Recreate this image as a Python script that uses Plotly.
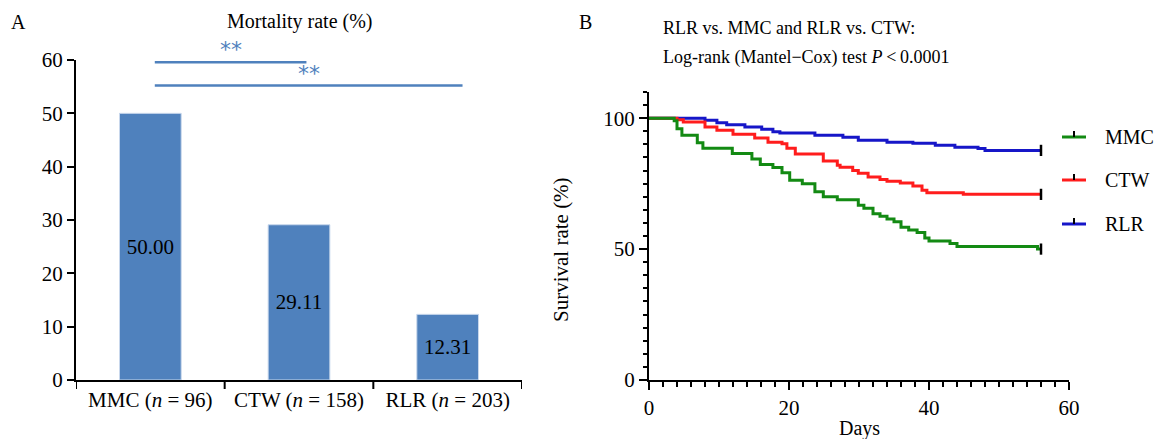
import plotly.graph_objects as go

W, H = 1159, 439

# ---------------- data ----------------
groups = ["MMC", "CTW", "RLR"]
group_n = [96, 158, 203]
mortality = [50.00, 29.11, 12.31]

# significance comparisons: (from index, to index, height)
sig_from = [0, 0]
sig_to = [1, 2]
sig_height = [59.6, 55.2]
sig_label = ["**", "**"]

mmc_days = [0, 3.6, 4.0, 4.7, 6.9, 7.7, 11.9, 14.7, 15.9, 17.7, 19.0, 20.1, 21.9, 23.7, 24.9,
            26.9, 29.9, 30.7, 32.0, 33.0, 34.0, 35.0, 36.0, 37.1, 38.3, 39.4, 40.0, 43.0, 44.0,
            55.5, 56]
mmc_surv = [100, 99.0, 96.0, 93.5, 90.6, 88.5, 86.5, 84.4, 82.3, 81.2, 79.2, 76.3, 75.0, 71.9,
            70.0, 68.8, 66.7, 65.6, 63.5, 62.5, 61.5, 60.4, 58.3, 57.3, 56.3, 54.2, 53.1, 52.1,
            51.0, 50.0, 50.0]

ctw_days = [0, 4.0, 4.9, 8.0, 9.7, 12.0, 15.1, 17.0, 19.0, 19.7, 20.9, 24.9, 26.9, 27.3, 29.1,
            29.9, 31.3, 33.0, 34.0, 35.9, 37.7, 39.0, 39.7, 44.9, 56]
ctw_surv = [100, 99.4, 98.5, 96.6, 95.4, 93.9, 92.4, 90.8, 90.2, 88.5, 86.3, 83.6, 82.0, 81.3,
            80.0, 79.0, 77.5, 76.6, 75.9, 75.2, 74.1, 72.5, 71.5, 70.9, 70.9]

rlr_days = [0, 8.0, 9.7, 11.1, 13.7, 16.1, 17.7, 18.7, 23.7, 27.7, 29.9, 34.0, 37.7, 40.9, 43.7,
            47.0, 48.0, 56]
rlr_surv = [100, 99.2, 98.3, 97.5, 96.6, 95.8, 94.8, 94.3, 93.5, 92.7, 91.6, 90.8, 90.4, 89.7,
            88.9, 88.4, 87.7, 87.7]

curve_names = ["RLR", "CTW", "MMC"]
curve_days = [rlr_days, ctw_days, mmc_days]
curve_surv = [rlr_surv, ctw_surv, mmc_surv]
curve_colors = {"MMC": "#138a13", "CTW": "#ff1c1c", "RLR": "#1616c8"}
legend_order = ["MMC", "CTW", "RLR"]

# ---------------- helpers ----------------
def px(xp):
    return xp / W

def py(yp):
    return 1 - yp / H

FONT = "Liberation Serif"
BAR_COLOR = "#4f81bd"
TICK_SIZE = 21

fig = go.Figure()

# ---------------- panel A ----------------
cat_labels = [f"{g} (<i>n</i> = {n})" for g, n in zip(groups, group_n)]
fig.add_trace(go.Bar(
    x=list(range(len(groups))), y=mortality,
    width=0.415,
    marker=dict(color=BAR_COLOR, line=dict(color="#c9d8ec", width=1)),
    text=[f"{v:.2f}" for v in mortality],
    textposition="inside", insidetextanchor="middle",
    textfont=dict(family=FONT, size=21, color="black"),
    xaxis="x", yaxis="y", showlegend=False, hoverinfo="skip",
))

for a, b, h, lab in zip(sig_from, sig_to, sig_height, sig_label):
    x0 = a + 0.03
    x1 = b + 0.05 * (b - a)
    fig.add_shape(type="line", xref="x", yref="y", x0=x0, x1=x1, y0=h, y1=h,
                  line=dict(color=BAR_COLOR, width=2.5))
    fig.add_annotation(xref="x", yref="y", x=(x0 + x1) / 2, y=h, text=lab,
                       showarrow=False, yanchor="bottom", yshift=-2,
                       font=dict(family="DejaVu Sans", size=22, color=BAR_COLOR))

# ---------------- panel B ----------------
for name, d, s in zip(curve_names, curve_days, curve_surv):
    fig.add_trace(go.Scatter(
        x=d, y=s, mode="lines", line=dict(color=curve_colors[name], width=3, shape="hv"),
        xaxis="x2", yaxis="y2", showlegend=False, hoverinfo="skip",
    ))
    fig.add_trace(go.Scatter(
        x=[d[-1]], y=[s[-1]], mode="markers",
        marker=dict(symbol="line-ns", size=8, line=dict(color="black", width=2.5)),
        xaxis="x2", yaxis="y2", showlegend=False, hoverinfo="skip",
    ))

# manual legend
leg_y = [137, 180, 224]
for name, yy in zip(legend_order, leg_y):
    fig.add_shape(type="line", xref="paper", yref="paper",
                  x0=px(1062), x1=px(1086), y0=py(yy), y1=py(yy),
                  line=dict(color=curve_colors[name], width=3))
    fig.add_shape(type="line", xref="paper", yref="paper",
                  x0=px(1074), x1=px(1074), y0=py(yy), y1=py(yy - 6),
                  line=dict(color="black", width=2))
    fig.add_annotation(xref="paper", yref="paper", x=px(1103), y=py(yy), text=name,
                       showarrow=False, xanchor="left", yanchor="middle",
                       font=dict(family=FONT, size=20, color="black"))

# ---------------- texts ----------------
def note(x, y, text, size=18, xanchor="center", angle=0):
    fig.add_annotation(xref="paper", yref="paper", x=px(x), y=py(y), text=text,
                       showarrow=False, xanchor=xanchor, yanchor="middle", textangle=angle,
                       font=dict(family=FONT, size=size, color="black"))

note(9, 22, "A", 20, "left")
note(300, 22, "Mortality rate (%)", 20)
note(577, 22, "B", 20, "left")
note(661, 28, "RLR vs. MMC and RLR vs. CTW:", 18, "left")
note(661, 58, "Log-rank (Mantel\u2212Cox) test <i>P</i>\u2009&lt;\u20090.0001", 18, "left")
note(561, 250, "Survival rate (%)", 21, "center", -90)
note(859, 428, "Days", 20)

axis_common = dict(showline=True, linecolor="black", linewidth=2,
                   tickcolor="black", tickwidth=2, showgrid=False, zeroline=False,
                   automargin=False,
                   tickfont=dict(family=FONT, size=TICK_SIZE, color="black"))

fig.update_layout(
    width=W, height=H,
    margin=dict(l=0, r=0, t=0, b=0),
    paper_bgcolor="white", plot_bgcolor="white",
    xaxis=dict(domain=[px(76), px(522)], range=[-0.5, 2.5], tickmode="array",
               tickvals=list(range(len(groups))), ticktext=cat_labels,
               anchor="y", ticks="", **axis_common),
    yaxis=dict(domain=[py(380), py(60)], range=[0, 60], dtick=10, anchor="x",
               ticks="outside", ticklen=7, **axis_common),
    xaxis2=dict(domain=[px(649), px(1069)], range=[0, 60], dtick=20, anchor="y2",
                ticks="outside", ticklen=8,
                minor=dict(dtick=2, ticklen=5, ticks="outside",
                           tickcolor="black", tickwidth=2),
                **axis_common),
    yaxis2=dict(domain=[py(380), py(92)], range=[0, 110], tickvals=[0, 50, 100], anchor="x2",
                ticks="outside", ticklen=8,
                minor=dict(dtick=5, ticklen=4, ticks="outside",
                           tickcolor="black", tickwidth=2),
                **axis_common),
)

# category boundary ticks for panel A
for i in range(len(groups) + 1):
    fig.add_shape(type="line", xref="x", yref="paper", x0=i - 0.5, x1=i - 0.5,
                  y0=py(380), y1=py(389), line=dict(color="black", width=2))

fig.write_html(
    "out.html",
    config={"displayModeBar": False},
    post_script="document.body.style.margin='0';document.body.style.overflow='hidden';",
)
